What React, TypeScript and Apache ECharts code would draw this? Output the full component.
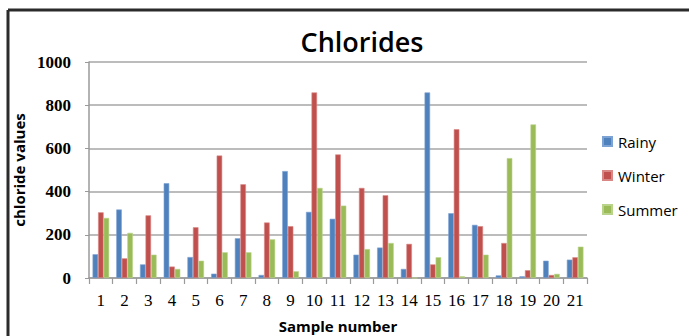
import React, { useEffect, useRef } from "react";
import * as echarts from "echarts";

const categories = ["1","2","3","4","5","6","7","8","9","10","11","12","13","14","15","16","17","18","19","20","21"];
const rainy = [110, 317, 63, 439, 97, 20, 184, 14, 495, 306, 274, 108, 141, 42, 859, 300, 246, 12, 8, 80, 85];
const winter = [304, 91, 290, 53, 235, 567, 434, 257, 240, 859, 572, 417, 383, 158, 63, 689, 240, 162, 36, 14, 96];
const summer = [278, 209, 108, 42, 80, 119, 119, 179, 31, 417, 335, 134, 162, 0, 96, 8, 108, 555, 711, 19, 145];
const yTicks = { min: 0, max: 1000, interval: 200 };

export default function App() {
  const ref = useRef<HTMLDivElement>(null);
  useEffect(() => {
    if (!ref.current) return;
    const chart = echarts.init(ref.current, null, { renderer: "svg" });
    const mk = (name: string, data: number[], color: string, border: string) => ({
      name,
      type: "bar",
      data,
      barGap: "0%",
      barCategoryGap: "30%",
      itemStyle: { color, borderColor: border, borderWidth: 0.6 },
    });
    chart.setOption({
      animation: false,
      backgroundColor: "#ffffff",
      title: {
        text: "Chlorides",
        left: 357,
        top: 23,
        textAlign: "center",
        textStyle: { fontFamily: "'Open Sans', sans-serif", fontWeight: 600, fontSize: 27, color: "#000" },
      },
      grid: { left: 89, right: 102, top: 62, bottom: 58, containLabel: false, outerBoundsMode: "none" },
      legend: {
        orient: "vertical",
        left: 597,
        top: 129,
        itemWidth: 9,
        itemHeight: 9,
        itemGap: 19,
        icon: "rect",
        textStyle: { fontFamily: "'Open Sans', sans-serif", fontSize: 15, color: "#000", padding: [0, 0, 0, 1] },
        data: ["Rainy", "Winter", "Summer"],
      },
      xAxis: {
        type: "category",
        data: categories,
        name: "Sample number",
        nameLocation: "middle",
        nameGap: 40,
        nameTextStyle: { fontFamily: "'Open Sans', sans-serif", fontWeight: "bold", fontSize: 15, color: "#000" },
        axisLine: { lineStyle: { color: "#9a9a9a", width: 1.5 } },
        axisTick: { show: true, length: 6, lineStyle: { color: "#9a9a9a", width: 1.2 } },
        axisLabel: { fontFamily: "'Liberation Serif', serif", fontSize: 17, color: "#000", margin: 14, interval: 0 },
      },
      yAxis: {
        type: "value",
        min: yTicks.min,
        max: yTicks.max,
        interval: yTicks.interval,
        name: "chloride values",
        nameLocation: "middle",
        nameGap: 51,
        nameTextStyle: { fontFamily: "'Open Sans', sans-serif", fontWeight: "bold", fontSize: 15, color: "#000" },
        axisLine: { show: true, lineStyle: { color: "#9a9a9a", width: 1.5 } },
        axisTick: { show: true, length: 4, lineStyle: { color: "#9a9a9a" } },
        axisLabel: {
          fontFamily: "'Liberation Serif', serif",
          fontWeight: "bold",
          fontSize: 17,
          color: "#000",
          margin: 18,
          formatter: (v: number) => String(v),
        },
        splitLine: { lineStyle: { color: "#a6a6a6", width: 1.5 } },
      },
      graphic: [
        { type: "line", shape: { x1: 8, y1: 10, x2: 689, y2: 10 }, style: { stroke: "#2b2b2b", lineWidth: 3 } },
        { type: "line", shape: { x1: 8, y1: 10, x2: 8, y2: 336 }, style: { stroke: "#2b2b2b", lineWidth: 3 } },
      ],
      series: [
        mk("Rainy", rainy, "#4F81BD", "#7da3d4"),
        mk("Winter", winter, "#C0504D", "#d88784"),
        mk("Summer", summer, "#9BBB59", "#b9d38a"),
      ],
    });
    return () => chart.dispose();
  }, []);
  return <div ref={ref} style={{ position: "fixed", left: 0, top: 0, width: 689, height: 336 }} />;
}
